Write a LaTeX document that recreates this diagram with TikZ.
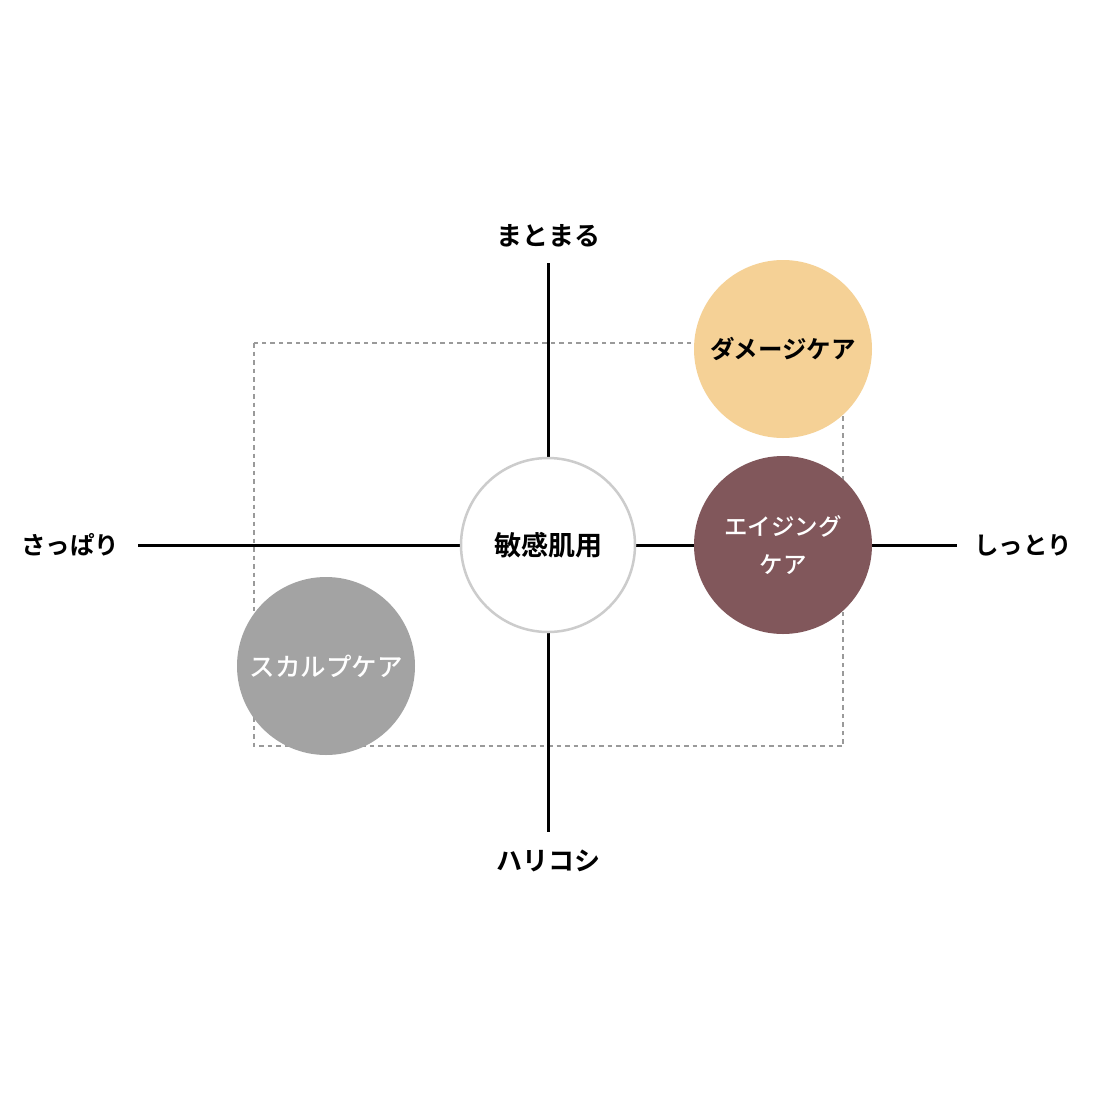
\documentclass[tikz,border=0pt]{standalone}
\usepackage{fontspec}
\newfontfamily\jpbold{Noto Sans CJK JP Bold}
\newfontfamily\jpmed{Noto Sans CJK JP Medium}
\definecolor{damage}{HTML}{F5D196}
\definecolor{aging}{HTML}{81575B}
\definecolor{scalp}{HTML}{A3A3A3}
\definecolor{ringgray}{HTML}{CCCCCC}
\definecolor{dashgray}{HTML}{9A9A9A}
\begin{document}
\begin{tikzpicture}[x=1pt,y=-1pt,
  axis/.style={line width=3pt,black},
  frame/.style={draw=dashgray,line width=1.3pt,dash pattern=on 4.5pt off 4pt},
  bubble/.style={circle,minimum size=178pt,inner sep=0pt,align=center},
  axislabel/.style={font=\jpbold\fontsize{24.5}{28}\selectfont,text=black,inner sep=0pt},
  bubbletext/.style={font=\jpbold\fontsize{24}{38}\selectfont}
]
\useasboundingbox (0,0) rectangle (1098,1098);
\fill[white] (0,0) rectangle (1098,1098);
% labels
\node[axislabel,font=\jpbold\fontsize{26}{30}\selectfont] (top) at (548,236) {まとまる};
\node[axislabel,font=\jpbold\fontsize{26}{30}\selectfont] (bottom) at (548,861) {ハリコシ};
\node[axislabel] (left) at (70,545) {さっぱり};
\node[axislabel] (right) at (1023,545) {しっとり};
% axis end points
\coordinate (vt) at (548,263);
\coordinate (vb) at (548,832);
\coordinate (hl) at (138,545);
\coordinate (hr) at (957,545);
% dashed frame
\draw[frame] (254,343) rectangle (843,746);
% axes
\draw[axis] (vt) -- (vb);
\draw[axis] (hl) -- (hr);
% bubbles
\node[bubble,fill=white,draw=ringgray,line width=2.5pt,minimum size=174pt,text=black,font=\jpbold\fontsize{27}{30}\selectfont] (center) at (548,545) {敏感肌用};
\node[bubble,fill=damage,bubbletext,text=black,font=\jpbold\fontsize{24.5}{30}\selectfont] (damage) at (783,349) {ダメージケア};
\node[bubble,fill=aging,text=white,font=\jpmed\fontsize{23.5}{38}\selectfont] (aging) at (783,545) {エイジング\\ケア};
\node[bubble,fill=scalp,text=white,font=\jpmed\fontsize{25.5}{30}\selectfont] (scalp) at (326,666) {スカルプケア};
\end{tikzpicture}
\end{document}
